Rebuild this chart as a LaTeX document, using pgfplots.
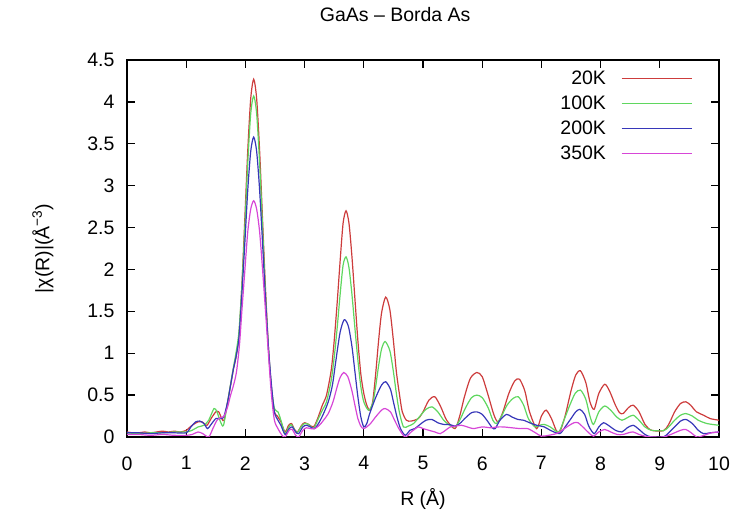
\documentclass[border=0pt]{standalone}
\usepackage{fontspec}
\setmainfont{Liberation Sans}
\usepackage{pgfplots}
\pgfplotsset{compat=1.18}

\definecolor{c20}{RGB}{205,60,60}
\definecolor{c100}{RGB}{95,215,95}
\definecolor{c200}{RGB}{55,55,185}
\definecolor{c350}{RGB}{215,70,215}

\begin{document}
\begin{tikzpicture}
\begin{axis}[
    scale only axis,
    width=592pt, height=377pt,
    xmin=0, xmax=10, ymin=0, ymax=4.5,
    xtick={0,1,...,10},
    ytick={0,0.5,...,4.5},
    tick align=inside,
    major tick length=8pt,
    tick style={black, line width=1.3pt},
    axis line style={line width=1.7pt},
    /pgf/number format/assume math mode=true,
    tick label style={font=\fontsize{19.5}{22}\selectfont},
    label style={font=\fontsize{19.5}{22}\selectfont},
    xlabel={R (Å)},
    ylabel={|χ(R)|(Å\textsuperscript{−3})},
    xlabel style={at={(axis description cs:0.5,0)}, anchor=north, yshift=-48pt},
    ylabel style={at={(axis description cs:0,0.5)}, anchor=south, yshift=70pt},
    xticklabel style={yshift=-16pt},
    yticklabel style={xshift=-9pt},
    title={GaAs – Borda As},
    title style={font=\fontsize{19.5}{22}\selectfont, at={(axis description cs:0.453,1)}, anchor=south, yshift=29pt},
    legend plot pos=right,
    legend cell align=right,
    legend style={draw=none, fill=none, at={(axis description cs:0.955,0.975)}, anchor=north east,
        font=\fontsize{19.5}{22}\selectfont, row sep=8pt, column sep=14pt, inner sep=0pt,
        nodes={inner sep=1pt}},
    legend image code/.code={\draw[#1] (0pt,0pt) -- (70pt,0pt);},
    every axis plot/.append style={line width=1.2pt, smooth, tension=0.45},
]
% 20K
\addplot[c20] coordinates {
(0,0.06) (0.1,0.05) (0.2,0.05) (0.3,0.06) (0.4,0.05) (0.5,0.06) (0.6,0.07) (0.7,0.06) (0.8,0.07) (0.9,0.06)
(1.0,0.08) (1.1,0.14) (1.2,0.18) (1.27,0.18) (1.35,0.14) (1.42,0.22) (1.5,0.30) (1.55,0.30) (1.6,0.22) (1.64,0.2)
(1.7,0.42) (1.75,0.62) (1.8,0.82) (1.84,0.95) (1.89,1.2) (1.94,1.8) (1.99,2.6) (2.04,3.42) (2.09,4.04) (2.14,4.27)
(2.19,4.04) (2.24,3.42) (2.29,2.59) (2.34,1.76) (2.39,1.06) (2.44,0.58) (2.49,0.3) (2.54,0.25) (2.6,0.18) (2.67,0.06)
(2.73,0.14) (2.78,0.16) (2.83,0.09) (2.88,0.06) (2.95,0.14) (3.0,0.17) (3.07,0.15) (3.15,0.12) (3.22,0.22) (3.3,0.38)
(3.37,0.5) (3.45,0.8) (3.5,1.15) (3.55,1.6) (3.6,2.1) (3.65,2.55) (3.7,2.7) (3.75,2.55) (3.8,2.15) (3.85,1.65)
(3.9,1.15) (3.95,0.75) (4.0,0.52) (4.05,0.38) (4.1,0.32) (4.15,0.42) (4.2,0.75) (4.25,1.15) (4.3,1.48) (4.37,1.67)
(4.44,1.52) (4.5,1.15) (4.55,0.78) (4.6,0.52) (4.65,0.3) (4.72,0.2) (4.8,0.19) (4.92,0.22) (5.0,0.3) (5.1,0.44)
(5.2,0.48) (5.3,0.36) (5.4,0.2) (5.54,0.1) (5.62,0.25) (5.7,0.48) (5.8,0.7) (5.91,0.77) (6.0,0.72) (6.1,0.5)
(6.2,0.26) (6.27,0.18) (6.35,0.3) (6.45,0.52) (6.55,0.67) (6.63,0.69) (6.72,0.55) (6.8,0.3) (6.92,0.1) (7.0,0.25)
(7.08,0.32) (7.17,0.22) (7.25,0.08) (7.31,0.06) (7.4,0.25) (7.5,0.55) (7.58,0.74) (7.66,0.79) (7.75,0.65) (7.82,0.42)
(7.89,0.33) (7.97,0.52) (8.07,0.63) (8.15,0.55) (8.25,0.38) (8.32,0.29) (8.38,0.28) (8.47,0.35) (8.55,0.38) (8.65,0.3)
(8.75,0.15) (8.86,0.08) (9.06,0.075) (9.15,0.15) (9.25,0.3) (9.35,0.4) (9.44,0.42) (9.52,0.38) (9.62,0.3) (9.74,0.26)
(9.85,0.22) (10.0,0.2)
};
\addlegendentry{20K}
% 100K
\addplot[c100] coordinates {
(0,0.05) (0.2,0.04) (0.4,0.05) (0.6,0.05) (0.8,0.06) (1.0,0.06) (1.1,0.08) (1.2,0.12) (1.3,0.14) (1.38,0.2)
(1.47,0.34) (1.52,0.3) (1.58,0.18) (1.63,0.14) (1.7,0.42) (1.75,0.63) (1.8,0.84) (1.84,1.0) (1.89,1.25) (1.94,1.8)
(1.99,2.5) (2.04,3.27) (2.09,3.86) (2.14,4.07) (2.19,3.86) (2.24,3.27) (2.29,2.5) (2.34,1.7) (2.39,1.05) (2.44,0.6)
(2.49,0.34) (2.55,0.3) (2.6,0.2) (2.67,0.04) (2.72,0.1) (2.77,0.15) (2.82,0.1) (2.87,0.05) (2.95,0.13) (3.0,0.16)
(3.07,0.15) (3.15,0.1) (3.22,0.2) (3.3,0.32) (3.37,0.42) (3.45,0.68) (3.5,0.95) (3.55,1.3) (3.6,1.7) (3.65,2.05)
(3.7,2.15) (3.75,2.02) (3.8,1.7) (3.85,1.3) (3.9,0.92) (3.95,0.6) (4.0,0.42) (4.08,0.32) (4.15,0.4) (4.2,0.6)
(4.25,0.85) (4.3,1.05) (4.36,1.14) (4.44,1.03) (4.5,0.78) (4.55,0.52) (4.6,0.3) (4.67,0.12) (4.75,0.13) (4.84,0.16)
(4.95,0.25) (5.05,0.33) (5.15,0.36) (5.25,0.3) (5.35,0.2) (5.45,0.14) (5.54,0.12) (5.62,0.2) (5.72,0.35) (5.82,0.47)
(5.91,0.5) (6.0,0.47) (6.1,0.35) (6.18,0.2) (6.24,0.16) (6.32,0.24) (6.42,0.38) (6.52,0.46) (6.61,0.48) (6.7,0.38)
(6.78,0.22) (6.89,0.12) (6.97,0.14) (7.05,0.15) (7.15,0.12) (7.29,0.06) (7.38,0.2) (7.48,0.38) (7.57,0.52) (7.66,0.56)
(7.75,0.45) (7.82,0.25) (7.88,0.15) (7.97,0.3) (8.07,0.37) (8.17,0.32) (8.27,0.24) (8.36,0.2) (8.45,0.23) (8.55,0.26)
(8.65,0.2) (8.75,0.12) (8.86,0.08) (9.06,0.075) (9.15,0.12) (9.25,0.2) (9.35,0.26) (9.44,0.28) (9.55,0.25) (9.65,0.2)
(9.8,0.16) (10.0,0.14)
};
\addlegendentry{100K}
% 200K
\addplot[c200] coordinates {
(0,0.05) (0.2,0.05) (0.4,0.04) (0.6,0.05) (0.8,0.05) (1.0,0.05) (1.08,0.12) (1.16,0.18) (1.23,0.19) (1.3,0.16)
(1.36,0.1) (1.42,0.15) (1.5,0.22) (1.55,0.22) (1.6,0.22) (1.64,0.25) (1.7,0.42) (1.75,0.62) (1.8,0.82) (1.84,0.95)
(1.89,1.18) (1.94,1.7) (1.99,2.31) (2.04,2.95) (2.09,3.41) (2.14,3.58) (2.19,3.41) (2.24,2.95) (2.29,2.31) (2.34,1.64)
(2.39,1.06) (2.44,0.62) (2.49,0.3) (2.55,0.2) (2.6,0.14) (2.67,0.03) (2.74,0.1) (2.79,0.12) (2.85,0.06) (2.9,0.04)
(2.97,0.12) (3.03,0.14) (3.1,0.12) (3.17,0.1) (3.25,0.18) (3.32,0.28) (3.4,0.42) (3.47,0.62) (3.53,0.92) (3.6,1.25)
(3.67,1.4) (3.74,1.32) (3.8,1.08) (3.85,0.78) (3.9,0.48) (3.95,0.24) (4.0,0.12) (4.05,0.16) (4.1,0.28) (4.2,0.47)
(4.3,0.62) (4.37,0.66) (4.45,0.57) (4.5,0.42) (4.56,0.24) (4.62,0.1) (4.7,0.02) (4.78,0.08) (4.86,0.1) (4.95,0.15)
(5.05,0.2) (5.15,0.21) (5.25,0.17) (5.35,0.15) (5.45,0.15) (5.54,0.13) (5.62,0.16) (5.72,0.23) (5.82,0.29) (5.91,0.3)
(6.0,0.27) (6.1,0.18) (6.17,0.11) (6.22,0.1) (6.3,0.2) (6.41,0.27) (6.5,0.24) (6.6,0.21) (6.7,0.2) (6.8,0.17)
(6.92,0.14) (7.05,0.12) (7.15,0.08) (7.31,0.04) (7.4,0.12) (7.5,0.22) (7.58,0.3) (7.65,0.33) (7.73,0.27) (7.8,0.13)
(7.89,0.04) (7.97,0.12) (8.05,0.17) (8.15,0.13) (8.25,0.08) (8.36,0.06) (8.45,0.11) (8.55,0.14) (8.65,0.09) (8.75,0.03)
(8.86,0.0) (9.06,0.0) (9.15,0.05) (9.25,0.12) (9.35,0.19) (9.44,0.21) (9.55,0.16) (9.65,0.08) (9.74,0.04) (9.85,0.05)
(10.0,0.06)
};
\addlegendentry{200K}
% 350K
\addplot[c350] coordinates {
(0,0.03) (0.2,0.03) (0.4,0.02) (0.6,0.03) (0.8,0.02) (1.0,0.02) (1.1,0.03) (1.2,0.06) (1.28,0.04) (1.38,0.0)
(1.45,0.1) (1.52,0.2) (1.58,0.23) (1.64,0.25) (1.7,0.36) (1.75,0.5) (1.8,0.62) (1.85,0.78) (1.9,1.1) (1.94,1.5)
(1.99,1.98) (2.04,2.45) (2.09,2.72) (2.14,2.82) (2.19,2.72) (2.24,2.45) (2.29,2.0) (2.34,1.5) (2.39,0.98) (2.44,0.5)
(2.49,0.2) (2.55,0.1) (2.62,0.02) (2.67,0.0) (2.74,0.08) (2.79,0.09) (2.85,0.02) (2.9,0.0) (2.97,0.08) (3.03,0.11)
(3.1,0.1) (3.17,0.1) (3.25,0.14) (3.32,0.2) (3.4,0.28) (3.48,0.42) (3.55,0.6) (3.6,0.71) (3.66,0.77) (3.73,0.72)
(3.8,0.55) (3.85,0.38) (3.9,0.22) (3.95,0.13) (4.0,0.1) (4.1,0.15) (4.2,0.24) (4.3,0.32) (4.36,0.34) (4.45,0.3)
(4.52,0.2) (4.6,0.09) (4.7,0.0) (4.8,0.06) (4.92,0.12) (5.0,0.1) (5.1,0.08) (5.2,0.06) (5.29,0.04) (5.38,0.08)
(5.46,0.12) (5.55,0.13) (5.65,0.14) (5.75,0.12) (5.85,0.1) (6.0,0.12) (6.15,0.11) (6.25,0.12) (6.36,0.12) (6.5,0.11)
(6.65,0.1) (6.77,0.1) (6.9,0.05) (7.0,0.01) (7.12,0.02) (7.25,0.04) (7.35,0.08) (7.45,0.13) (7.55,0.17) (7.62,0.17)
(7.7,0.12) (7.8,0.05) (7.88,0.01) (7.97,0.06) (8.07,0.09) (8.17,0.06) (8.28,0.03) (8.38,0.03) (8.47,0.05) (8.55,0.06)
(8.65,0.03) (8.75,0.01) (8.86,0.0) (9.06,0.0) (9.15,0.02) (9.25,0.05) (9.35,0.08) (9.44,0.09) (9.53,0.05) (9.63,0.0)
(9.75,0.02) (9.87,0.05) (10.0,0.06)
};
\addlegendentry{350K}
\end{axis}
\path (-127pt,-76pt) rectangle (612pt,437pt);
\end{tikzpicture}
\end{document}
